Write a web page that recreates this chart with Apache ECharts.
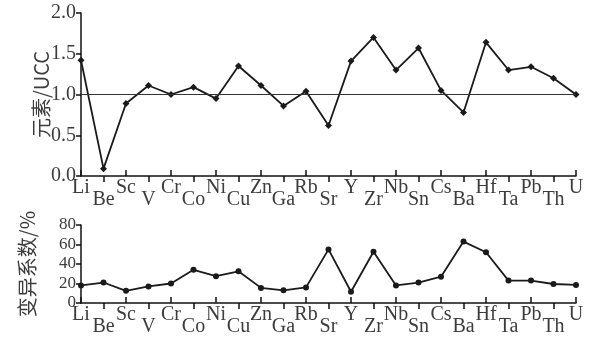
<!DOCTYPE html>
<html><head><meta charset="utf-8">
<script src="https://cdn.jsdelivr.net/npm/echarts@6/dist/echarts.min.js"></script>
<style>html,body{margin:0;padding:0;background:#fff;}#c{width:592px;height:337px;}</style>
</head><body><div id="c"></div>
<script>
const elements = ['Li','Be','Sc','V','Cr','Co','Ni','Cu','Zn','Ga','Rb','Sr','Y','Zr','Nb','Sn','Cs','Ba','Hf','Ta','Pb','Th','U'];
const ratioUCC = [1.42,0.09,0.89,1.11,1.00,1.09,0.95,1.35,1.11,0.86,1.04,0.62,1.41,1.70,1.30,1.57,1.05,0.78,1.64,1.30,1.34,1.20,1.00];
const cvPercent = [18,21,12.5,17,20,34,27.5,32.5,15.5,13,16,55,11.5,52.5,18,21,27,63,52,23,23,19.5,18.5];
const topTicks = [0,0.5,1.0,1.5,2.0];
const bottomTicks = [0,20,40,60,80];

const serif = '"Liberation Serif", "Times New Roman", serif';
const cjk = '"Noto Sans CJK SC", "Liberation Serif", serif';
const txt = '#3c3c3c';
const grids = [
  {left:81, right:16, top:13, height:163},
  {left:81, right:16, top:225, height:83}
];
function xAxes(gi){
  return [
    {type:'category', gridIndex:gi, data:elements, boundaryGap:false, position:'bottom',
     axisLine:{lineStyle:{color:'#111', width:1.5}},
     axisTick:{inside:true, length:6, interval:(i)=>i%2===0, lineStyle:{color:'#111', width:1.5}},
     axisLabel:{interval:0, margin:6, color:txt, fontFamily:serif, fontSize:20, lineHeight:12, hideOverlap:false,
       formatter:(v,i)=> (i%2 ? '\n'+v : v)}},
    {type:'category', gridIndex:gi, data:elements, boundaryGap:false, position:'bottom',
     axisLine:{show:false},
     axisTick:{inside:false, length:6, interval:(i)=>i%2===1, lineStyle:{color:'#111', width:1.5}},
     axisLabel:{show:false}}
  ];
}
function yAxis(gi, ticks, name, gap, dec, fs){
  return {type:'value', gridIndex:gi, min:ticks[0], max:ticks[ticks.length-1], interval:ticks[1]-ticks[0],
    name:name, nameLocation:'middle', nameGap:gap, nameRotate:90, nameMoveOverlap:false,
    nameTextStyle:{color:txt, fontFamily:cjk, fontSize:20},
    axisLine:{show:true, lineStyle:{color:'#111', width:1.5}},
    axisTick:{show:true, length:5, lineStyle:{color:'#111', width:1.5}},
    splitLine:{show:false},
    axisLabel:{margin:5, showMinLabel:true, showMaxLabel:true, hideOverlap:false,
      color:txt, fontFamily:serif, fontSize:fs, lineHeight:fs,
      formatter:(v)=>Number(v).toFixed(dec)}};
}
const chart = echarts.init(document.getElementById('c'));
chart.setOption({
  animation:false,
  grid:grids,
  xAxis:[...xAxes(0), ...xAxes(1)],
  yAxis:[yAxis(0, topTicks, '元素/UCC', 30, 1, 20), yAxis(1, bottomTicks, '变异系数/%', 44, 0, 17)],
  series:[
    {type:'line', xAxisIndex:0, yAxisIndex:0, data:ratioUCC, symbol:'diamond', symbolSize:7,
     lineStyle:{color:'#1a1a1a', width:1.8}, itemStyle:{color:'#1a1a1a'},
     markLine:{silent:true, symbol:'none', label:{show:false}, lineStyle:{color:'#333', width:1, type:'solid'}, data:[{yAxis:1.0}]}},
    {type:'line', xAxisIndex:2, yAxisIndex:1, data:cvPercent, symbol:'circle', symbolSize:6,
     lineStyle:{color:'#1a1a1a', width:1.8}, itemStyle:{color:'#1a1a1a'}}
  ]
});
</script></body></html>
